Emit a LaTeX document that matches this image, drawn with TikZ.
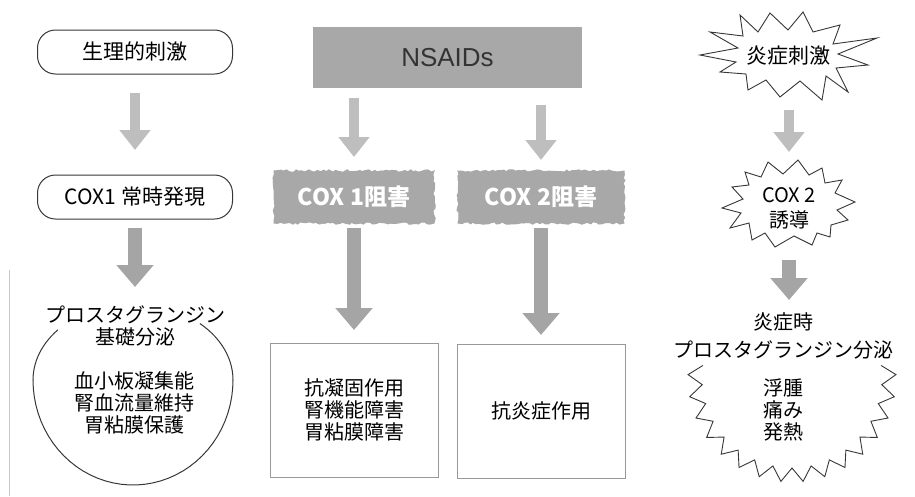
\documentclass[tikz,border=0pt]{standalone}
\usepackage{fontspec}
\setmainfont{Noto Sans CJK JP}
\newfontfamily\latinsans{Liberation Sans}
\usetikzlibrary{arrows.meta, positioning, decorations.pathmorphing}
\definecolor{boxgray}{RGB}{168,168,168}
\definecolor{arrowlight}{RGB}{190,190,190}
\definecolor{arrowgray}{RGB}{165,165,165}
\definecolor{inkgray}{RGB}{55,55,55}

\begin{document}
\begin{tikzpicture}[x=1pt, y=-1pt,
  pill/.style={draw=inkgray, line width=1pt, rounded corners=18pt,
               minimum width=195pt, minimum height=44pt, font=\fontsize{21}{25}\selectfont},
  drug/.style={fill=boxgray, minimum width=269pt, minimum height=61pt,
               font=\latinsans\fontsize{26}{30}\selectfont, text=black!80},
  inhibit/.style={fill=boxgray, draw=boxgray, line width=1pt, decorate,
               decoration={random steps, segment length=3pt, amplitude=1.2pt},
               minimum height=52pt, text=white, font=\bfseries\fontsize{23}{27}\selectfont},
  effect/.style={draw=black!40, line width=0.8pt, minimum width=168pt, minimum height=134pt,
               align=center, font=\fontsize{20}{22}\selectfont},
  pgtext/.style={align=center, inner sep=0pt, font=\fontsize{20}{22}\selectfont},
  burst/.style={align=center, inner sep=0pt},
  outline/.style={draw=inkgray, line width=0.9pt, line join=miter},
  thin arrow/.style={draw=arrowlight, line width=10pt, -{Triangle[width=30pt, length=20pt]}},
  wide arrow/.style={draw=arrowgray, line width=14pt, -{Triangle[width=36pt, length=22pt]}}
]
\useasboundingbox (0,0) rectangle (915,496);

% COX1 side
\node[pill] (phys) at (135,52) {生理的刺激};
\node[pill] (cox1exp) at (135,197) {COX1 常時発現};
\node[pgtext] (pg1) at (135,326) {プロスタグランジン\\基礎分泌};
\node[pgtext] (pg1eff) at (134,403) {血小板凝集能\\腎血流量維持\\胃粘膜保護};
\draw[outline, line width=1pt]
  plot[domain=221.4:180, samples=15] ({133+100*cos(\x)}, {380+76*sin(\x)})
  -- plot[domain=180:0, samples=40] ({133+100*cos(\x)}, {380+105*sin(\x)})
  -- plot[domain=0:-48, samples=15] ({133+100*cos(\x)}, {380+76*sin(\x)});

% NSAIDs
\node[drug] (nsaid) at (447.5,57.5) {NSAIDs};
\node[inhibit, minimum width=160pt] (c1inh) at (354,197) {COX 1阻害};
\node[inhibit, minimum width=166pt] (c2inh) at (541,197) {COX 2阻害};
\node[effect] (eff1) at (354,410) {抗凝固作用\\腎機能障害\\胃粘膜障害};
\node[effect] (eff2) at (541,411) {抗炎症作用};

% COX2 side
\node[burst, font=\fontsize{21}{24}\selectfont] (star1) at (788,56) {炎症刺激};
\draw[outline, shift={(star1.center)}]
  (-88,-1) -- (-50,-8) -- (-78,-24) -- (-45,-20) -- (-48,-41) -- (-30,-24)
  -- (-18,-43) -- (0,-26) -- (15,-44) -- (25,-24) -- (52,-31) -- (45,-12)
  -- (89,-18) -- (50,-2) -- (80,9) -- (48,12) -- (60,36) -- (38,20)
  -- (34,44) -- (12,25) -- (-8,41) -- (-22,24) -- (-40,34) -- (-42,18)
  -- (-68,16) -- (-52,6) -- cycle;
\node[burst, font=\fontsize{20}{25}\selectfont] (star2) at (789,208) {COX 2\\誘導};
\draw[outline, shift={(star2.center)}, yshift=3pt]
  (-67,3) -- (-46,-6) -- (-57,-18) -- (-40,-20) -- (-44,-33) -- (-28,-28)
  -- (-21,-43) -- (-6,-31) -- (9,-45) -- (20,-30) -- (33,-37) -- (36,-22)
  -- (53,-25) -- (46,-12) -- (66,-3) -- (48,5) -- (59,15) -- (42,20)
  -- (41,32) -- (28,28) -- (23,40) -- (5,31) -- (-14,42) -- (-24,28)
  -- (-37,35) -- (-40,18) -- (-59,23) -- (-48,8) -- cycle;
\node[pgtext, font=\fontsize{20}{28}\selectfont] (pg2) at (783,336) {炎症時\\プロスタグランジン分泌};
\node[pgtext] (pg2eff) at (783,410) {浮腫\\痛み\\発熱};
\draw[outline]
  plot[samples at={0,...,32}]
  ({792+(90+14*mod(\x,2))*cos(188-6.125*\x)}, {378+(90+14*mod(\x,2))*sin(188-6.125*\x)});

% arrows
\draw[thin arrow, shorten <=41pt, shorten >=47pt] (phys.center) -- (cox1exp.center);
\draw[wide arrow, shorten <=31pt, shorten >=39pt] (cox1exp.center) -- (pg1.center);
\draw[thin arrow, shorten <=40pt, shorten >=40pt] (c1inh.center |- nsaid.center) -- (c1inh.center);
\draw[thin arrow, shorten <=47pt, shorten >=37pt] (c2inh.center |- nsaid.center) -- (c2inh.center);
\draw[wide arrow, shorten <=31pt, shorten >=80pt] (c1inh.center) -- (eff1.center);
\draw[wide arrow, shorten <=31pt, shorten >=76pt] (c2inh.center) -- (eff2.center);
\draw[thin arrow, shorten <=54pt, shorten >=56pt] (star2.center |- star1.center) -- (star2.center);
\draw[wide arrow, shorten <=52pt, shorten >=36pt] (star2.center) -- (star2.center |- pg2.center);

% scan edge
\draw[black!22, line width=0.8pt] (9,270) -- (9,496);
\end{tikzpicture}
\end{document}
